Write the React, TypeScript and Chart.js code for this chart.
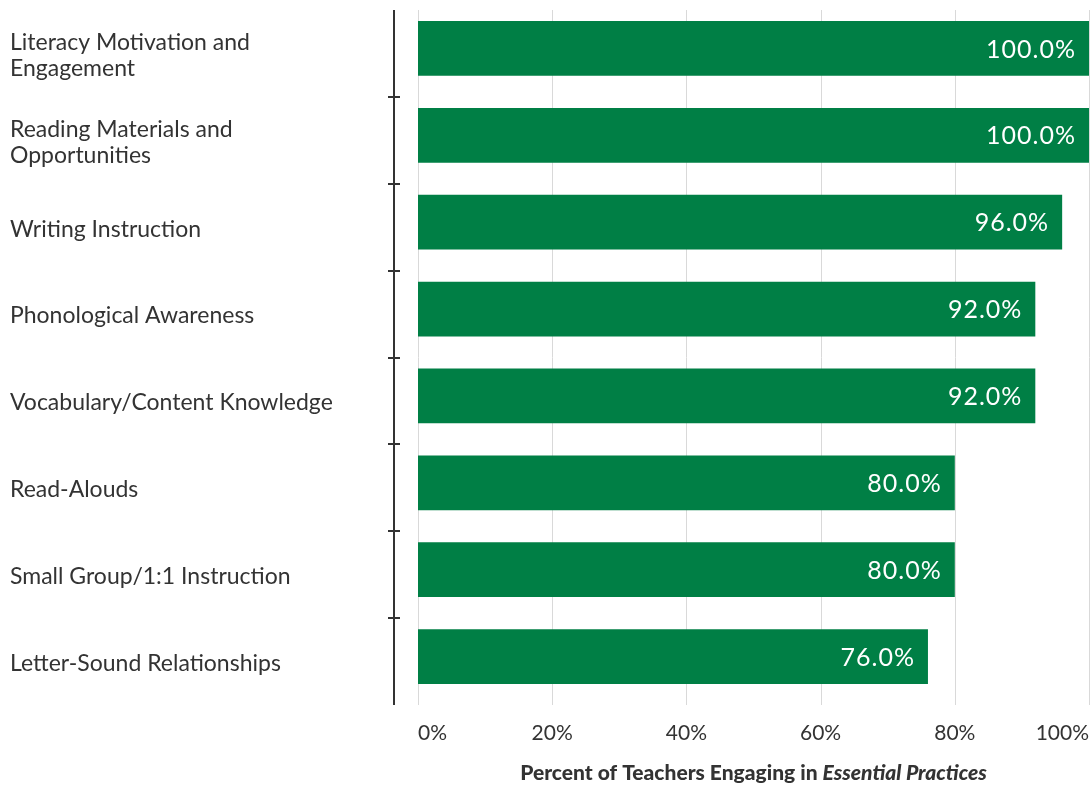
import React, { useEffect, useRef } from "react";
import { Chart, registerables } from "chart.js";

Chart.register(...registerables);

const categories: (string | string[])[] = [
  ["Literacy Motivation and", "Engagement"],
  ["Reading Materials and", "Opportunities"],
  "Writing Instruction",
  "Phonological Awareness",
  "Vocabulary/Content Knowledge",
  "Read-Alouds",
  "Small Group/1:1 Instruction",
  "Letter-Sound Relationships",
];
const values: number[] = [100, 100, 96, 92, 92, 80, 80, 76];
const tickValues: number[] = [0, 20, 40, 60, 80, 100];
const titleRegular = "Percent of Teachers Engaging in ";
const titleItalic = "Essential Practices";

const GREEN = "#007F45";
const TEXT = "#333333";
const FONT = "Lato, 'Open Sans', sans-serif";
const SHIFT = 5;

const customPlugin = {
  id: "custom",
  beforeDatasetsDraw(chart: any) {
    const ctx = chart.ctx;
    const area = chart.chartArea;
    const x = chart.scales.x;
    ctx.save();
    ctx.strokeStyle = "#d9d9d9";
    ctx.lineWidth = 1;
    tickValues.forEach((v) => {
      const px = Math.round(x.getPixelForValue(v)) + 0.5;
      ctx.beginPath();
      ctx.moveTo(px, area.top + SHIFT);
      ctx.lineTo(px, area.bottom + SHIFT);
      ctx.stroke();
    });
    ctx.restore();
  },
  afterDatasetsDraw(chart: any) {
    const ctx = chart.ctx;
    const meta = chart.getDatasetMeta(0);
    ctx.save();
    ctx.fillStyle = "#ffffff";
    ctx.font = `25px ${FONT}`;
    try { (ctx as any).letterSpacing = "1px"; } catch (e) {}
    ctx.textAlign = "right";
    ctx.textBaseline = "middle";
    meta.data.forEach((bar: any, i: number) => {
      ctx.fillText(values[i].toFixed(1) + "%", bar.x - 13, bar.y + 1);
    });
    ctx.restore();
  },
  afterDraw(chart: any) {
    const ctx = chart.ctx;
    const area = chart.chartArea;
    const y = chart.scales.y;
    const axisX = area.left - 24;
    ctx.save();
    ctx.strokeStyle = "#333333";
    ctx.lineWidth = 2;
    ctx.beginPath();
    ctx.moveTo(axisX, area.top + SHIFT);
    ctx.lineTo(axisX, area.bottom + SHIFT);
    ctx.stroke();
    for (let i = 0; i < categories.length - 1; i++) {
      const yy = Math.round((y.getPixelForTick(i) + y.getPixelForTick(i + 1)) / 2) + SHIFT;
      ctx.beginPath();
      ctx.moveTo(axisX - 6, yy);
      ctx.lineTo(axisX + 6, yy);
      ctx.stroke();
    }
    // axis title
    const boldFont = `900 21px ${FONT}`;
    const italicFont = `italic 900 21px ${FONT}`;
    ctx.font = boldFont;
    const w1 = ctx.measureText(titleRegular).width;
    ctx.font = italicFont;
    const w2 = ctx.measureText(titleItalic).width;
    const cx = (area.left + area.right) / 2;
    const start = cx - (w1 + w2) / 2;
    ctx.fillStyle = TEXT;
    ctx.textBaseline = "middle";
    ctx.textAlign = "left";
    ctx.font = boldFont;
    ctx.fillText(titleRegular, start, 773);
    ctx.font = italicFont;
    ctx.fillText(titleItalic, start + w1, 773);
    ctx.restore();
  },
};

export default function App() {
  const ref = useRef<HTMLCanvasElement | null>(null);
  useEffect(() => {
    if (!ref.current) return;
    const chart = new Chart(ref.current, {
      type: "bar",
      data: {
        labels: categories,
        datasets: [
          {
            data: values,
            backgroundColor: GREEN,
            barPercentage: 0.63,
            categoryPercentage: 1,
          },
        ],
      },
      options: {
        indexAxis: "y",
        animation: false,
        responsive: true,
        maintainAspectRatio: false,
        layout: { padding: { left: 10, right: 2, top: 10 - SHIFT, bottom: 0 } },
        plugins: {
          legend: { display: false },
          tooltip: { enabled: false },
          title: { display: false },
        },
        scales: {
          x: {
            min: 0,
            max: 100,
            afterBuildTicks: (scale: any) => {
              scale.ticks = tickValues.map((v) => ({ value: v }));
            },
            afterFit: (scale: any) => {
              scale.height = 80 + SHIFT;
              scale.paddingLeft = 0;
              scale.paddingRight = 0;
            },
            grid: { display: false, drawTicks: false },
            border: { display: false },
            ticks: {
              callback: (v: any) => v + "%",
              color: TEXT,
              font: { family: FONT, size: 21 },
              padding: 16 + SHIFT,
              align: "inner",
              maxRotation: 0,
            },
          },
          y: {
            afterFit: (scale: any) => {
              scale.width = 408;
              scale.paddingTop = 0;
              scale.paddingBottom = 0;
            },
            grid: { display: false },
            border: { display: false },
            ticks: {
              color: TEXT,
              font: { family: FONT, size: 23, lineHeight: 1.15 },
              crossAlign: "far",
              labelOffset: 7,
            },
          },
        },
      },
      plugins: [customPlugin],
    });
    return () => chart.destroy();
  }, []);
  return (
    <div style={{ position: "absolute", left: 0, top: 0, width: 1091, height: 785, background: "#fff" }}>
      <canvas ref={ref} />
    </div>
  );
}
